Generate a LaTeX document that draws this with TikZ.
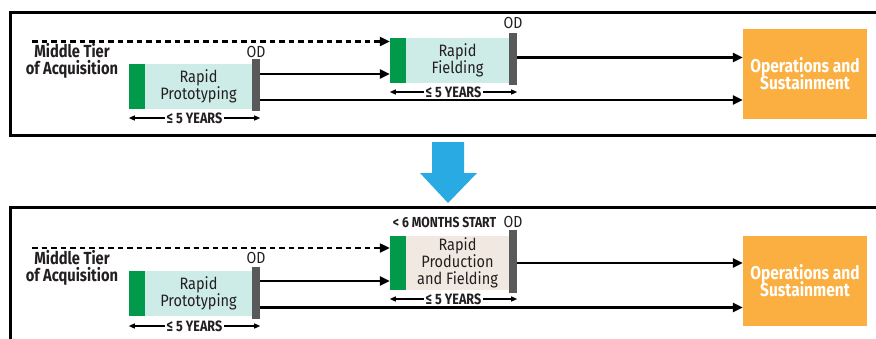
\documentclass[tikz,border=0pt]{standalone}
\usepackage{fontspec}
\setmainfont{Fira Sans}
\newfontfamily\narrowfont[FakeStretch=0.88]{Fira Sans}
\newfontfamily\condfont[FakeStretch=0.84]{Fira Sans}
\usetikzlibrary{arrows.meta}

% keep a fixed baseline distance in stacked labels
\newcommand\tightlines{\lineskiplimit=-20pt\relax}

\definecolor{barGreen}{HTML}{009A4A}
\definecolor{boxTeal}{HTML}{CDEBE7}
\definecolor{boxBeige}{HTML}{F1E9E1}
\definecolor{barGray}{HTML}{58595B}
\definecolor{opsOrange}{HTML}{FBAF41}
\definecolor{flowBlue}{HTML}{29AAE2}
\definecolor{ink}{HTML}{231F20}

\tikzset{
  frame/.style={draw=black, line width=3pt},
  startbar/.style={fill=barGreen, inner sep=0pt, minimum width=16pt},
  phasebox/.style={fill=boxTeal, inner sep=0pt, minimum width=103pt, text=ink,
    align=center, font=\narrowfont\fontsize{16.5}{17}\selectfont},
  odbar/.style={fill=barGray, inner sep=0pt, minimum width=8pt},
  opsbox/.style={fill=opsOrange, inner sep=0pt, minimum width=124pt, minimum height=90pt,
    text=white, align=center,
    font=\condfont\bfseries\fontsize{18.5}{17}\selectfont\tightlines},
  odlabel/.style={text=ink, inner sep=0pt, font=\narrowfont\fontsize{16}{17}\selectfont},
  tierlabel/.style={text=ink, align=center, inner sep=0pt,
    font=\condfont\bfseries\fontsize{17.5}{17}\selectfont\tightlines},
  flow/.style={draw=black, line width=2.7pt, -{Triangle[length=10pt,width=9pt]}},
  dashflow/.style={draw=black, line width=2.2pt, dash pattern=on 5.5pt off 4pt,
    -{Triangle[length=10pt,width=9pt]}},
  span/.style={draw=black, line width=1.2pt,
    {Triangle[length=6pt,width=5pt]}-{Triangle[length=6pt,width=5pt]}},
  spanlabel/.style={fill=white, inner xsep=1.5pt, inner ysep=0pt, text=ink,
    font=\condfont\bfseries\fontsize{15}{16}\selectfont},
  notelabel/.style={text=ink, inner sep=0pt, font=\condfont\bfseries\fontsize{14.5}{16}\selectfont}
}

\begin{document}
\begin{tikzpicture}[x=1pt, y=-1pt]
\useasboundingbox (0,0) rectangle (876,338);
\fill[white] (0,0) rectangle (876,338);
\begin{scope}
\clip (0,0) rectangle (876,338);

% ---------- current pathway ----------
\draw[frame] (10,12) rectangle (890,135);

\node[tierlabel] (tier1) at (72,61) {Middle Tier\\of Acquisition};

\node[startbar, minimum height=45pt] (gP1) at (137,86.5) {};
\node[phasebox, minimum width=107pt, minimum height=45pt] (tP1) at (198.5,86.5) {Rapid\\Prototyping};
\node[odbar, minimum height=52pt] (dP1) at (256,85) {};
\node[odlabel] (odP1) at (256,52) {OD};

\node[startbar, minimum height=45pt] (gF1) at (398,60.5) {};
\node[phasebox, minimum height=45pt] (tF1) at (457.5,60.5) {Rapid\\Fielding};
\node[odbar, minimum height=52pt] (dF1) at (513,59) {};
\node[odlabel] (odF1) at (513,23) {OD};

\node[opsbox] (ops1) at (805,74) {Operations and\\Sustainment};

\coordinate (dashStart1) at (32,41.5);
\draw[dashflow] (dashStart1) -- (dashStart1 -| gF1.west);
\draw[flow] (dP1.east |- 0,74) -- (gF1.west |- 0,74);
\draw[flow] (dP1.east |- 0,100) -- (ops1.west |- 0,100);
\draw[flow] (dF1.east |- 0,57.5) -- (ops1.west |- 0,57.5);

\draw[span] (gP1.west |- 0,118) -- (dP1.east |- 0,118)
  node[midway, spanlabel] (yrP1) {≤ 5 YEARS};
\draw[span] (gF1.west |- 0,92) -- (dF1.east |- 0,92)
  node[midway, spanlabel] (yrF1) {≤ 5 YEARS};

% ---------- transition arrow ----------
\fill[flowBlue] (432,142) -- (464,142) -- (464,173) -- (477,173) -- (448,203)
  -- (420,173) -- (432,173) -- cycle;

% ---------- revised pathway ----------
\draw[frame] (10,207) rectangle (890,360);

\node[tierlabel] (tier2) at (72,268) {Middle Tier\\of Acquisition};

\node[startbar, minimum height=45pt] (gP2) at (137,293.5) {};
\node[phasebox, minimum width=107pt, minimum height=45pt] (tP2) at (198.5,293.5) {Rapid\\Prototyping};
\node[odbar, minimum height=52pt] (dP2) at (256,293) {};
\node[odlabel] (odP2) at (256,258) {OD};

\node[startbar, minimum height=54pt] (gF2) at (398,263) {};
\node[phasebox, fill=boxBeige, minimum height=54pt] (tF2) at (457.5,263)
  {Rapid\\Production\\and Fielding};
\node[odbar, minimum height=63pt] (dF2) at (513,261.5) {};
\node[odlabel] (odF2) at (513,222) {OD};
\node[notelabel] (start2) at (444.5,222) {< 6 MONTHS START};

\node[opsbox] (ops2) at (805,281) {Operations and\\Sustainment};

\coordinate (dashStart2) at (32,248);
\draw[dashflow] (dashStart2) -- (dashStart2 -| gF2.west);
\draw[flow] (dP2.east |- 0,281) -- (gF2.west |- 0,281);
\draw[flow] (dP2.east |- 0,307.5) -- (ops2.west |- 0,307.5);
\draw[flow] (dF2.east |- 0,263) -- (ops2.west |- 0,263);

\draw[span] (gP2.west |- 0,326) -- (dP2.east |- 0,326)
  node[midway, spanlabel] (yrP2) {≤ 5 YEARS};
\draw[span] (gF2.west |- 0,299) -- (dF2.east |- 0,299)
  node[midway, spanlabel] (yrF2) {≤ 5 YEARS};
\end{scope}
\end{tikzpicture}
\end{document}
